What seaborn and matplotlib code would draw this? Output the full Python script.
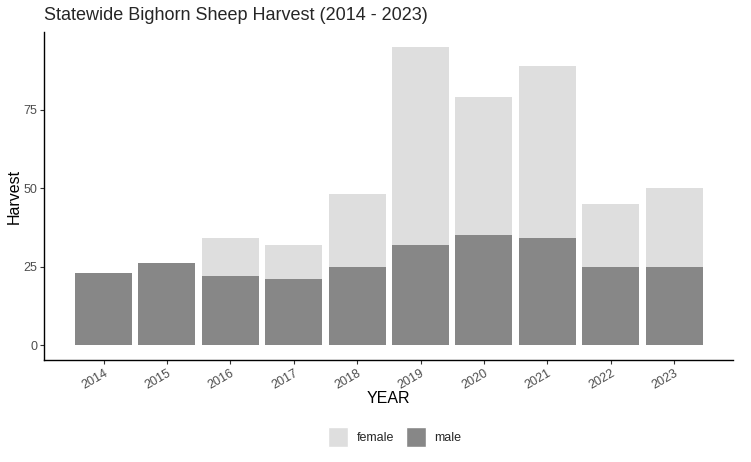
import matplotlib
matplotlib.use("Agg")
from matplotlib import pyplot as plt
from matplotlib.patches import Patch
import seaborn as sns
import pandas as pd

years = ["2014", "2015", "2016", "2017", "2018", "2019", "2020", "2021", "2022", "2023"]
male = [23, 26, 22, 21, 25, 32, 35, 34, 25, 25]
female = [0, 0, 12, 11, 23, 63, 44, 55, 20, 25]

total = [m + f for m, f in zip(male, female)]
df = pd.DataFrame({"YEAR": years, "male": male, "total": total})

sns.set_style("white")
plt.rcParams['font.family'] = ['Liberation Sans', 'DejaVu Sans']

light = "#dedede"
dark = "#878787"

fig = plt.figure(figsize=(7.51, 4.62), dpi=100)
ax = fig.add_axes([44 / 751, 1 - 360 / 462, (733 - 44) / 751, (360 - 32) / 462])

# stacked: total (female on top) drawn first, then male over it
sns.barplot(data=df, x="YEAR", y="total", color=light, width=0.9,
            saturation=1, linewidth=0, edgecolor="none", ax=ax)
sns.barplot(data=df, x="YEAR", y="male", color=dark, width=0.9,
            saturation=1, linewidth=0, edgecolor="none", ax=ax)

ax.set_xlim(-0.94, 9.93)
ax.set_ylim(-4.75, 99.75)
ax.set_yticks([0, 25, 50, 75])
ax.set_xlabel("YEAR", fontsize=11.5, color="black", labelpad=0)
ax.set_ylabel("Harvest", fontsize=11.5, color="black", labelpad=1)
ax.tick_params(axis="both", length=3, width=0.8, color="#333333",
               labelcolor="#4d4d4d", labelsize=9, left=True, bottom=True, pad=2)
for lab in ax.get_xticklabels():
    lab.set_rotation(30)
    lab.set_ha("right")
    lab.set_rotation_mode("anchor")

sns.despine(ax=ax)
for s in ["left", "bottom"]:
    ax.spines[s].set_color("black")
    ax.spines[s].set_linewidth(1.0)

fig.text(44 / 751, 1 - 16 / 462, "Statewide Bighorn Sheep Harvest (2014 - 2023)",
         fontsize=13, va="center", ha="left")

handles = [Patch(facecolor=light, label="female"), Patch(facecolor=dark, label="male")]
fig.legend(handles=handles, loc="center", bbox_to_anchor=(395 / 751, 1 - 437 / 462),
           ncol=2, frameon=False, fontsize=9, handlelength=1.6, handleheight=2.2,
           columnspacing=0.9, handletextpad=0.7)

fig.savefig("out.png", dpi=100)
